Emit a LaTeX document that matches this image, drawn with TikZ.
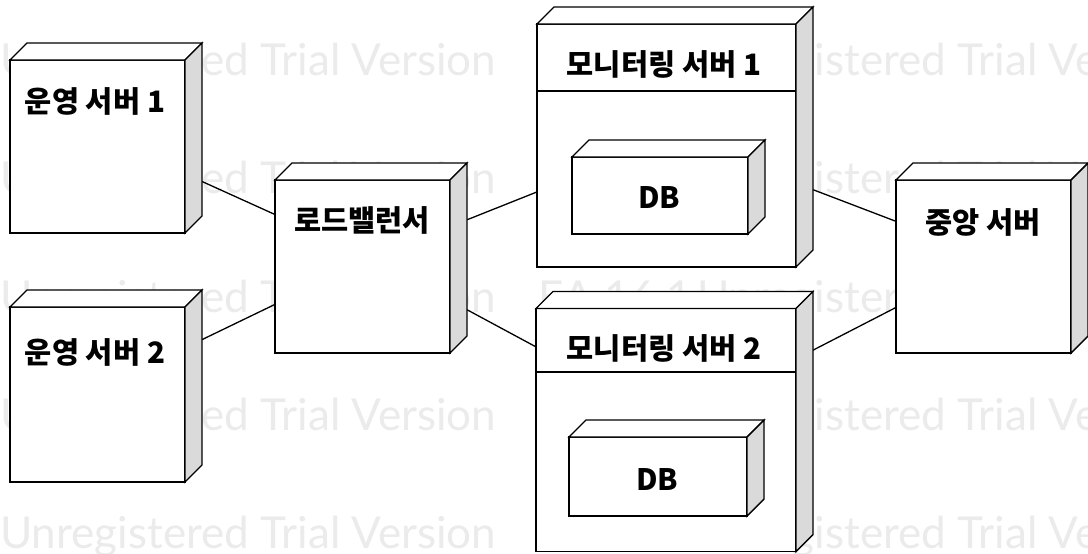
\documentclass[tikz,border=0pt]{standalone}
\usepackage{fontspec}
\newfontfamily\kr{Noto Sans CJK KR}
\newfontfamily\wmfont{Lato}
\pgfdeclarelayer{wmlayer}
\pgfdeclarelayer{links}
\pgfsetlayers{wmlayer,links,main}
\definecolor{sidegray}{HTML}{DADADA}
\definecolor{wmgray}{HTML}{EBEBEB}
\tikzset{
  boxfront/.style={draw=black, fill=white, line width=1.4pt, rectangle,
    anchor=north west, inner sep=0pt, outer sep=0pt},
  boxedge/.style={draw=black, line width=1.4pt, line join=miter},
  link/.style={draw=black, line width=1.3pt},
  lbl/.style={font=\kr\bfseries\fontsize{29.5}{34}\selectfont, inner sep=0pt, anchor=center},
  wm/.style={font=\wmfont\fontsize{44}{50}\selectfont, text=wmgray, inner sep=0pt, anchor=base west},
}
% three-dimensional deployment node: name, left, top, width, height
\newcommand\depthbox[5]{%
  \node[boxfront, minimum width=#4pt, minimum height=#5pt] (#1) at (#2,#3) {};
  \draw[boxedge, fill=white] (#1.north west) -- ++(17,-17)
    -- ([shift={(17,-17)}]#1.north east) -- (#1.north east) -- cycle;
  \draw[boxedge, fill=sidegray] (#1.north east) -- ([shift={(17,-17)}]#1.north east)
    -- ([shift={(17,-17)}]#1.south east) -- (#1.south east) -- cycle;
  \coordinate (#1-c) at ([shift={(8.5,-8.5)}]#1.center);
}
\begin{document}
\begin{tikzpicture}[x=1pt, y=-1pt]
\useasboundingbox (0,0) rectangle (1088,554);

% white sheet and watermark rows
\begin{pgfonlayer}{wmlayer}
\fill[white] (0,0) rectangle (1088,554);
\foreach \i/\yy in {1/75, 2/193, 3/312, 4/430, 5/548} {
  \node[wm] (wma\i) at (0,\yy) {Unregistered Trial Version};
  \node[wm] (wmb\i) at (538,\yy) {EA 16.1};
  \node[wm] (wmc\i) at (697,\yy) {Unregistered Trial Version};
}
\end{pgfonlayer}

% nodes
\depthbox{op1}{10}{60}{175}{173}
\depthbox{op2}{10}{307}{175}{175}
\depthbox{lb}{275}{180}{175}{173}
\depthbox{mon1}{537}{24}{259}{243}
\depthbox{mon2}{536}{308.5}{260}{243}
\depthbox{ctr}{896}{180}{175}{173}
\depthbox{db1}{572}{157}{176}{77}
\depthbox{db2}{569}{437}{178}{79}

% name compartments of the monitoring servers
\draw[boxedge] (mon1.west |- 0,91) coordinate (m1l) -- (mon1.east |- 0,91) coordinate (m1r);
\draw[boxedge] (mon2.west |- 0,372) coordinate (m2l) -- (mon2.east |- 0,372) coordinate (m2r);

% labels
\node[lbl] (op1-t) at (95,101) {운영 서버 1};
\node[lbl] (op2-t) at (95,352) {운영 서버 2};
\node[lbl] (lb-t) at (362,220) {로드밸런서};
\node[lbl] (ctr-t) at (983,222) {중앙 서버};
\node[lbl] (mon1-t) at (664,64) {모니터링 서버 1};
\node[lbl] (mon2-t) at (664,348) {모니터링 서버 2};
\node[lbl] (db1-t) at (659,198) {DB};
\node[lbl] (db2-t) at (657,480) {DB};

% communication paths
\begin{pgfonlayer}{links}
\draw[link] (op1-c) -- (lb-c);
\draw[link] (op2-c) -- (lb-c);
\draw[link] (lb-c) -- (mon1-c);
\draw[link] (lb-c) -- (mon2-c);
\draw[link] (mon1-c) -- (ctr-c);
\draw[link] (mon2-c) -- (ctr-c);
\end{pgfonlayer}
\end{tikzpicture}
\end{document}
